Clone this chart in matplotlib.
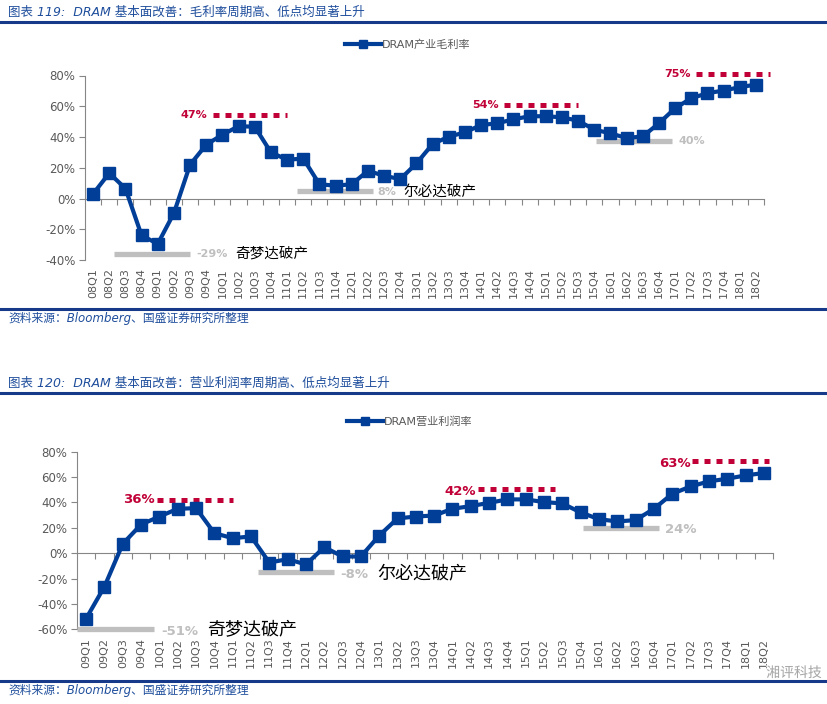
import numpy as np
import matplotlib
matplotlib.use("Agg")
import matplotlib.pyplot as plt
from matplotlib.lines import Line2D
import matplotlib.patheffects as pe

plt.rcParams['font.family'] = ['DejaVu Sans', 'Noto Sans CJK SC']

# ---- data -------------------------------------------------------------
quarters_gm = [f"{y:02d}Q{q}" for y in range(8, 19) for q in range(1, 5)][:42]
gross_margin = [3, 16.5, 6.5, -24, -29.5, -9.5, 22, 35, 41.5, 47, 46.7, 30,
                25.2, 26, 9.3, 8.3, 9.3, 18, 14.8, 12.6, 22.8, 35.4, 40.2, 43,
                47.8, 48.9, 51.5, 53.5, 53.5, 52.8, 50.6, 44.8, 42.4, 39.3,
                40.4, 48.9, 58.7, 65.2, 68.5, 70.2, 72.4, 74.1]

quarters_om = [f"{y:02d}Q{q}" for y in range(9, 19) for q in range(1, 5)][:38]
op_margin = [-51.5, -26.3, 7.4, 22.6, 28.9, 35, 35.5, 15.8, 11.8, 13.2,
             -7.4, -4.7, -8.9, 4.7, -2.6, -2.6, 13.9, 27.4, 28.9, 29.7,
             35, 37.1, 39.7, 42.4, 42.4, 40.3, 39.2, 32.1, 26.8, 25, 26.1,
             35, 46.8, 52.6, 56.6, 58.7, 61.3, 63.2]

BLUE = "#003E98"
RED = "#C00036"
GRAY = "#BFBFBF"
TXT = "#595959"
NAVY = "#17398A"
TITLE = "#1F4E9C"


def panel(ax, labels, vals, leg, ylim, yt):
    x = np.arange(len(vals))
    ax.plot(x, vals, color=BLUE, lw=3, marker='s', ms=8, label=leg,
            zorder=5, solid_joinstyle='round')
    ax.set_xlim(-0.5, len(vals) - 0.5)
    ax.set_ylim(*ylim)
    ax.set_yticks(yt)
    ax.set_yticklabels([f"{v}%" for v in yt])
    ax.set_xticks(x)
    ax.set_xticklabels(labels, rotation=90)
    for s in ['top', 'right', 'bottom']:
        ax.spines[s].set_visible(False)
    ax.spines['left'].set_color("#868686")
    ax.tick_params(axis='y', colors=TXT, labelsize=8.5, length=4,
                   color="#868686", pad=3)
    ax.tick_params(axis='x', colors=TXT, labelsize=8, length=0, pad=6)
    # zero line with category tick marks
    loc = (0 - ylim[0]) / (ylim[1] - ylim[0])
    sec = ax.secondary_xaxis(loc)
    sec.set_xticks(np.arange(len(vals)) + 0.5)
    sec.tick_params(labelbottom=False, length=4, color="#868686")
    sec.spines['bottom'].set_color("#868686")
    return ax


def hline(ax, x0, x1, y, kind):
    if kind == 'red':
        ax.plot([x0, x1], [y, y], color=RED, lw=3.6, ls=(0, (1.2, 1.2)),
                clip_on=False, zorder=4)
    else:
        ax.plot([x0, x1], [y, y], color=GRAY, lw=3.8, solid_capstyle='butt',
                clip_on=False, zorder=4)


fig = plt.figure(figsize=(8.28, 7.04), dpi=100)

# ---- headers / footers ------------------------------------------------
def header(ytxt, yrule, text):
    fig.text(8 / 828, 1 - ytxt / 704, text, color=TITLE, fontsize=9,
             style='italic', va='center', ha='left')
    fig.add_artist(Line2D([0, 1], [1 - yrule / 704] * 2, color=NAVY, lw=2.2))


def footer(yrule, ytxt):
    fig.add_artist(Line2D([0, 1], [1 - yrule / 704] * 2, color=NAVY, lw=2.2))
    fig.text(8 / 828, 1 - ytxt / 704, "资料来源：Bloomberg、国盛证券研究所整理",
             color=TITLE, fontsize=8.5, style='italic', va='center', ha='left')


header(12, 22, "图表 119:  DRAM 基本面改善：毛利率周期高、低点均显著上升")
footer(309, 318)
header(383, 393, "图表 120:  DRAM 基本面改善：营业利润率周期高、低点均显著上升")
footer(681, 690)

# ---- top panel --------------------------------------------------------
ax1 = fig.add_axes([85 / 828, 1 - 260 / 704, (764 - 85) / 828, (260 - 75.5) / 704])
panel(ax1, quarters_gm, gross_margin, "DRAM产业毛利率", (-40, 80),
      [-40, -20, 0, 20, 40, 60, 80])
ax1.legend(loc='center', bbox_to_anchor=(408 / 828, 1 - 45 / 704),
           bbox_transform=fig.transFigure, frameon=False, fontsize=8,
           handlelength=3.2, handletextpad=0.1, labelcolor=TXT, markerscale=0.7)

hline(ax1, 7.4, 12.0, 54, 'red')
ax1.text(7.05, 54, "47%", color=RED, fontsize=8, fontweight='bold',
         ha='right', va='center')
hline(ax1, 1.3, 6.0, -36, 'gray')
ax1.text(6.4, -36, "-29%", color=GRAY, fontsize=8, fontweight='bold',
         ha='left', va='center')
ax1.text(8.8, -35.8, "奇梦达破产", color='black', fontsize=10.5,
         ha='left', va='center')
hline(ax1, 12.6, 17.3, 5, 'gray')
ax1.text(17.6, 4.5, "8%", color=GRAY, fontsize=8, fontweight='bold',
         ha='left', va='center')
ax1.text(19.2, 4.5, "尔必达破产", color='black', fontsize=10.5,
         ha='left', va='center')
hline(ax1, 25.4, 30.0, 61, 'red')
ax1.text(25.1, 61, "54%", color=RED, fontsize=8, fontweight='bold',
         ha='right', va='center')
hline(ax1, 31.1, 35.8, 37.5, 'gray')
ax1.text(36.2, 37.5, "40%", color=GRAY, fontsize=8, fontweight='bold',
         ha='left', va='center')
hline(ax1, 37.3, 41.9, 81, 'red')
ax1.text(36.95, 81, "75%", color=RED, fontsize=8, fontweight='bold',
         ha='right', va='center', clip_on=False)

# ---- bottom panel -----------------------------------------------------
ax2 = fig.add_axes([77 / 828, 1 - 629.3 / 704, (773 - 77) / 828, (629.3 - 451.7) / 704])
panel(ax2, quarters_om, op_margin, "DRAM营业利润率", (-60, 80),
      [-60, -40, -20, 0, 20, 40, 60, 80])
ax2.legend(loc='center', bbox_to_anchor=(410 / 828, 1 - 422 / 704),
           bbox_transform=fig.transFigure, frameon=False, fontsize=8,
           handlelength=3.2, handletextpad=0.1, labelcolor=TXT, markerscale=0.7)

hline(ax2, 3.85, 8.0, 42.3, 'red')
ax2.text(3.75, 42.3, "36%", color=RED, fontsize=9.5, fontweight='bold',
         ha='right', va='center')
hline(ax2, -0.5, 3.7, -59.6, 'gray')
ax2.text(4.1, -61.5, "-51%", color=GRAY, fontsize=9.5, fontweight='bold',
         ha='left', va='center', clip_on=False)
ax2.text(6.6, -60.5, "奇梦达破产", color='black', fontsize=13,
         ha='left', va='center', clip_on=False)
hline(ax2, 9.4, 13.55, -14.7, 'gray')
ax2.text(13.9, -17, "-8%", color=GRAY, fontsize=9.5, fontweight='bold',
         ha='left', va='center')
ax2.text(15.9, -16, "尔必达破产", color='black', fontsize=13,
         ha='left', va='center')
hline(ax2, 21.4, 25.6, 50.5, 'red')
ax2.text(21.3, 49, "42%", color=RED, fontsize=9.5, fontweight='bold',
         ha='right', va='center')
hline(ax2, 27.1, 31.3, 20, 'gray')
ax2.text(31.6, 19, "24%", color=GRAY, fontsize=9.5, fontweight='bold',
         ha='left', va='center')
hline(ax2, 33.1, 37.3, 73, 'red')
ax2.text(33.0, 70.5, "63%", color=RED, fontsize=9.5, fontweight='bold',
         ha='right', va='center')

# watermark (kept clear of the tick labels)
fig.text(794 / 828, 1 - 673 / 704, "湘评科技", color="#9a9a9a", fontsize=10,
         ha='center', va='center', alpha=0.85,
         path_effects=[pe.withStroke(linewidth=2, foreground='white')])

fig.savefig("out.png", dpi=100)
